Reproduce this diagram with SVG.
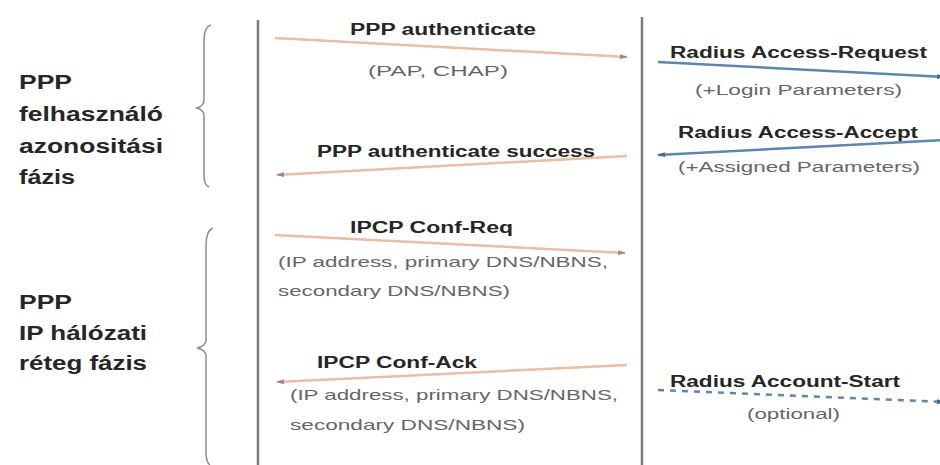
<svg xmlns="http://www.w3.org/2000/svg" width="940" height="465" viewBox="0 0 940 465">
<defs>
<style>
.ph{font-family:"Liberation Sans",Arial,sans-serif;font-weight:bold;font-size:20px;fill:#262626}
.mb{font-family:"Liberation Sans",Arial,sans-serif;font-weight:bold;font-size:16px;fill:#262626}
.mn{font-family:"Liberation Sans",Arial,sans-serif;font-size:15px;fill:#666666}
.life{stroke:#7e7e7e;stroke-width:2.5;fill:none}
.brace{stroke:#8c8c8c;stroke-width:1.5;fill:none}
.ppp{stroke:#ecbda6;stroke-width:2.5;fill:none}
.rad{stroke:#5a86b4;stroke-width:2.5;fill:none}
.dash{stroke-dasharray:6,6}
</style>
<marker id="ahO" markerWidth="8" markerHeight="6" refX="7" refY="3" orient="auto" markerUnits="userSpaceOnUse">
<path d="M0,0.5 L8,3 L0,5.5 Z" fill="#9a8a85"/>
</marker>
<marker id="ahB" markerWidth="8" markerHeight="6" refX="7" refY="3" orient="auto" markerUnits="userSpaceOnUse">
<path d="M0,0.5 L8,3 L0,5.5 Z" fill="#3f6b98"/>
</marker>
</defs>
<rect width="940" height="465" fill="#ffffff"/>

<g id="lifeline-left"><line class="life" x1="258" y1="20" x2="258" y2="465"/></g>
<g id="lifeline-right"><line class="life" x1="642" y1="17" x2="642" y2="465"/></g>

<g id="phase-auth">
<path class="brace" d="M211,25 Q204,27 204,40 L204,100 Q204,106 197,108 Q204,110 204,116 L204,175 Q204,185 209,187"/>
<text class="ph" x="19" y="89" textLength="53" lengthAdjust="spacingAndGlyphs">PPP</text>
<text class="ph" x="19" y="121" textLength="144" lengthAdjust="spacingAndGlyphs">felhasználó</text>
<text class="ph" x="19" y="153" textLength="144" lengthAdjust="spacingAndGlyphs">azonositási</text>
<text class="ph" x="19" y="184" textLength="56" lengthAdjust="spacingAndGlyphs">fázis</text>
</g>

<g id="phase-ip">
<path class="brace" d="M213,228 Q206,231 206,245 L206,340 Q206,346 197,348 Q206,350 206,356 L206,452 Q206,462 210,465"/>
<text class="ph" x="19" y="309" textLength="53" lengthAdjust="spacingAndGlyphs">PPP</text>
<text class="ph" x="19" y="340" textLength="128" lengthAdjust="spacingAndGlyphs">IP hálózati</text>
<text class="ph" x="19" y="370" textLength="128" lengthAdjust="spacingAndGlyphs">réteg fázis</text>
</g>

<g id="connectors">
<line class="ppp" x1="275" y1="38" x2="627" y2="57" marker-end="url(#ahO)"/>
<line class="ppp" x1="627" y1="156" x2="277" y2="175" marker-end="url(#ahO)"/>
<line class="ppp" x1="275" y1="235" x2="625" y2="253" marker-end="url(#ahO)"/>
<line class="ppp" x1="627" y1="365" x2="277" y2="382" marker-end="url(#ahO)"/>
<line class="rad" x1="658" y1="62" x2="944" y2="77" marker-end="url(#ahB)"/>
<line class="rad" x1="944" y1="140" x2="658" y2="155" marker-end="url(#ahB)"/>
<line class="rad dash" x1="658" y1="390" x2="944" y2="402" marker-end="url(#ahB)"/>
</g>

<g id="labels">
<text class="mb" x="350" y="35" textLength="186" lengthAdjust="spacingAndGlyphs">PPP authenticate</text>
<text class="mn" x="368" y="76" textLength="140" lengthAdjust="spacingAndGlyphs">(PAP, CHAP)</text>
<text class="mb" x="317" y="157" textLength="278" lengthAdjust="spacingAndGlyphs">PPP authenticate success</text>
<text class="mb" x="350" y="233" textLength="163" lengthAdjust="spacingAndGlyphs">IPCP Conf-Req</text>
<text class="mn" x="278" y="267" textLength="330" lengthAdjust="spacingAndGlyphs">(IP address, primary DNS/NBNS,</text>
<text class="mn" x="278" y="296" textLength="232" lengthAdjust="spacingAndGlyphs">secondary DNS/NBNS)</text>
<text class="mb" x="317" y="368" textLength="160" lengthAdjust="spacingAndGlyphs">IPCP Conf-Ack</text>
<text class="mn" x="290" y="400" textLength="328" lengthAdjust="spacingAndGlyphs">(IP address, primary DNS/NBNS,</text>
<text class="mn" x="290" y="430" textLength="235" lengthAdjust="spacingAndGlyphs">secondary DNS/NBNS)</text>
<text class="mb" x="670" y="58" textLength="257" lengthAdjust="spacingAndGlyphs">Radius Access-Request</text>
<text class="mn" x="695" y="95" textLength="207" lengthAdjust="spacingAndGlyphs">(+Login Parameters)</text>
<text class="mb" x="678" y="138" textLength="240" lengthAdjust="spacingAndGlyphs">Radius Access-Accept</text>
<text class="mn" x="678" y="172" textLength="242" lengthAdjust="spacingAndGlyphs">(+Assigned Parameters)</text>
<text class="mb" x="670" y="387" textLength="230" lengthAdjust="spacingAndGlyphs">Radius Account-Start</text>
<text class="mn" x="747" y="419" textLength="93" lengthAdjust="spacingAndGlyphs">(optional)</text>
</g>
</svg>
